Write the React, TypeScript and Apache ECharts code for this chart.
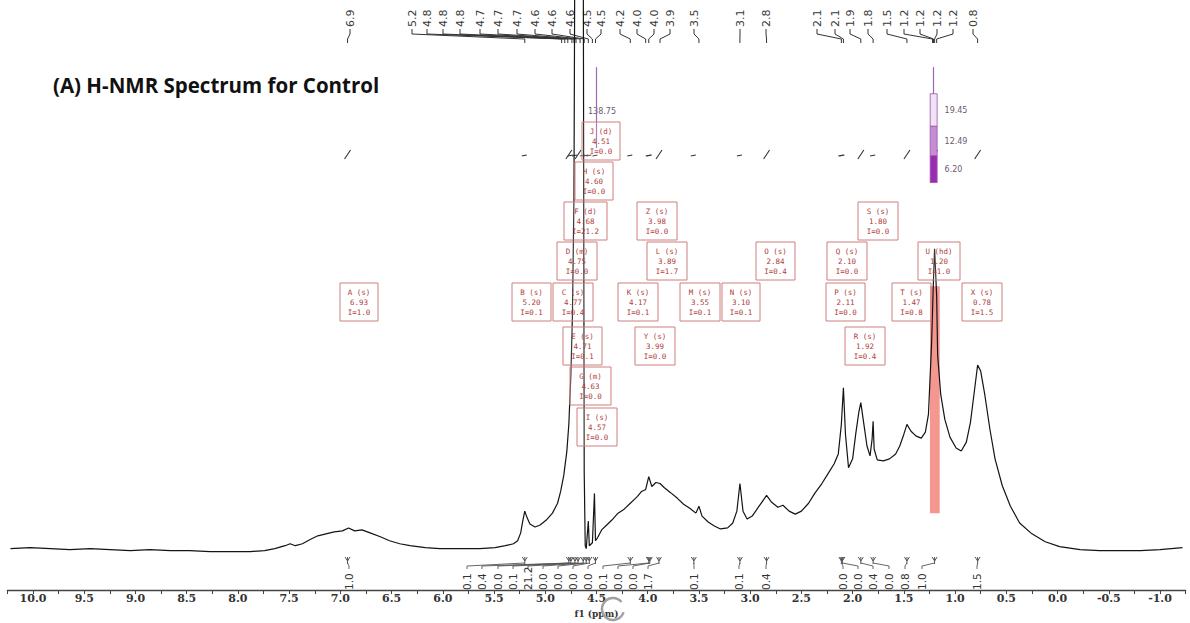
import { useEffect, useRef } from "react";
import * as echarts from "echarts";

// ---- spectrum trace (chemical shift in ppm, intensity in arbitrary units) ----
const spectrumPpm = [
  10.22, 10.03, 9.83, 9.64, 9.44, 9.25, 9.05, 8.86, 8.66, 8.47,
  8.27, 8.08, 7.88, 7.74, 7.64, 7.54, 7.49, 7.44, 7.37, 7.30,
  7.22, 7.14, 7.06, 6.98, 6.92, 6.86, 6.79, 6.71, 6.61, 6.52,
  6.42, 6.32, 6.17, 6.03, 5.83, 5.64, 5.49, 5.39, 5.31, 5.27,
  5.24, 5.22, 5.20, 5.18, 5.15, 5.10, 5.05, 4.99, 4.93, 4.88,
  4.85, 4.82, 4.79, 4.77, 4.75, 4.735, 4.72, 4.71, 4.675, 4.64,
  4.63, 4.62, 4.61, 4.60, 4.58, 4.57, 4.54, 4.52, 4.51, 4.49,
  4.45, 4.40, 4.35, 4.29, 4.23, 4.17, 4.13, 4.10, 4.06, 4.02,
  3.99, 3.96, 3.92, 3.88, 3.84, 3.78, 3.71, 3.65, 3.59, 3.53,
  3.50, 3.47, 3.41, 3.35, 3.29, 3.22, 3.17, 3.13, 3.10, 3.07,
  3.03, 2.98, 2.92, 2.88, 2.84, 2.79, 2.73, 2.68, 2.62, 2.56,
  2.50, 2.43, 2.37, 2.30, 2.24, 2.18, 2.14, 2.11, 2.09, 2.07,
  2.04, 2.00, 1.97, 1.94, 1.92, 1.89, 1.86, 1.83, 1.81, 1.80,
  1.79, 1.76, 1.70, 1.64, 1.58, 1.54, 1.50, 1.47, 1.43, 1.38,
  1.33, 1.29, 1.26, 1.23, 1.21, 1.20, 1.18, 1.17, 1.14, 1.10,
  1.05, 0.99, 0.94, 0.89, 0.85, 0.81, 0.78, 0.75, 0.71, 0.66,
  0.61, 0.54, 0.46, 0.37, 0.25, 0.12, -0.02, -0.22, -0.41, -0.61,
  -0.81, -1.0, -1.22,
];
const spectrumIntensity = [
  42, 43, 42, 41, 42, 41, 40, 41, 40, 40,
  39, 39, 39, 40, 42, 45, 47, 45, 47, 51,
  55, 57, 59, 60, 63, 60, 61, 58, 54, 50,
  47, 45, 43, 42, 42, 42, 43, 45, 47, 50,
  58, 70, 80, 74, 67, 64, 66, 71, 78, 88,
  100, 116, 140, 168, 218, 278, 398, 700, 650, 700,
  700, 120, 45, 42, 70, 45, 48, 98, 50, 53,
  61, 66, 71, 78, 82, 88, 92, 95, 100, 102,
  115, 105, 109, 108, 104, 99, 93, 87, 83, 78,
  85, 75, 69, 65, 62, 63, 68, 80, 108, 80,
  72, 75, 84, 90, 96, 89, 84, 86, 80, 77,
  80, 88, 98, 108, 118, 128, 138, 168, 205, 158,
  124, 133, 158, 180, 190, 168, 146, 136, 153, 171,
  143, 132, 131, 133, 138, 146, 158, 168, 161, 156,
  154, 160, 178, 248, 318, 346, 298, 238, 198, 173,
  155, 144, 141, 150, 170, 203, 228, 222, 198, 163,
  133, 106, 85, 68, 57, 49, 44, 41, 40, 40,
  40, 41, 43,
];

// ---- peak picking labels (top) ----
const peakLabels = [
  "6.9", "5.2", "4.8", "4.8", "4.8", "4.7", "4.7", "4.7", "4.6", "4.6",
  "4.6", "4.5", "4.5", "4.2", "4.0", "4.0", "3.9", "3.5", "3.1", "2.8",
  "2.1", "2.1", "1.9", "1.8", "1.5", "1.2", "1.2", "1.2", "1.2", "0.8",
];
const peakShifts = [
  6.93, 5.20, 4.84, 4.81, 4.78, 4.74, 4.72, 4.70, 4.66, 4.62,
  4.58, 4.54, 4.51, 4.17, 4.02, 3.99, 3.88, 3.50, 3.10, 2.84,
  2.11, 2.09, 1.92, 1.80, 1.47, 1.22, 1.21, 1.20, 1.18, 0.78,
];
// layout: pixel x of each rotated label
const peakLabelX = [
  350, 412, 427, 443, 460, 480, 498, 517, 535, 552,
  570, 587, 601, 620, 637, 654, 670, 694, 740, 766,
  817, 835, 850, 868, 887, 904, 920, 937, 953, 973,
];

// ---- multiplet analysis ----
const multipletNames = ["A", "B", "C", "D", "E", "F", "G", "H", "I", "J", "K", "L", "M", "N", "O", "P", "Q", "R", "S", "T", "U", "X", "Y", "Z"];
const multipletTypes = ["s", "s", "s", "m", "s", "d", "m", "s", "s", "d", "s", "s", "s", "s", "s", "s", "s", "s", "s", "s", "hd", "s", "s", "s"];
const multipletShifts = [6.93, 5.20, 4.77, 4.75, 4.71, 4.68, 4.63, 4.60, 4.57, 4.51, 4.17, 3.89, 3.55, 3.10, 2.84, 2.11, 2.10, 1.92, 1.80, 1.47, 1.20, 0.78, 3.99, 3.98];
const multipletIntegrals = [1.0, 0.1, 0.4, 0.0, 0.1, 21.2, 0.0, 0.0, 0.0, 0.0, 0.1, 1.7, 0.1, 0.1, 0.4, 0.0, 0.0, 0.4, 0.0, 0.8, 1.0, 1.5, 0.0, 0.0];
// layout: [left, top, width] of each annotation box (pixels)
const boxLayout: [number, number, number][] = [
  [340, 283, 38], [512, 283, 39], [553, 283, 40], [557, 242, 40], [563, 327, 39], [564, 202, 43],
  [570, 367, 41], [575, 162, 38], [577, 408, 40], [582, 122, 38], [618, 283, 40], [647, 242, 40],
  [680, 283, 40], [722, 283, 38], [756, 242, 39], [826, 283, 39], [827, 242, 40], [845, 327, 40],
  [858, 202, 40], [892, 283, 39], [918, 242, 42], [962, 283, 40], [635, 327, 40], [637, 202, 40],
];
// layout: pixel x of the integral value labels (ordered by decreasing shift)
const integralLabelX = [349, 467, 482, 498, 513, 528, 543, 558, 573, 588, 603, 618, 633, 648, 694, 739, 766, 843, 858, 873, 889, 905, 922, 977];

// ---- multiplet integral stack at 1.20 ppm and 4.51 ppm ----
const stackValues = ["19.45", "12.49", "6.20"];
const stackLevels = [530, 503, 470, 440, 413];
const bigIntegralValue = "138.75";

const W = 1190;
const H = 623;

export default function App() {
  const ref = useRef<HTMLDivElement>(null);

  useEffect(() => {
    const el = ref.current;
    if (!el) return;
    const chart = echarts.init(el, null, { renderer: "svg" });
    const spectrum = spectrumPpm.map((p, i) => [p, spectrumIntensity[i]]);

    const stackColors = ["#f1e3f3", "#c48ed0", "#9a2cb0"];
    const stackAreas = stackValues.map((v, i) => [
      {
        xAxis: 1.243,
        yAxis: stackLevels[i + 1],
        itemStyle: { color: stackColors[i], borderColor: "#9a50ac", borderWidth: 0.8 },
        label: {
          show: true,
          position: "right",
          distance: 7,
          formatter: v,
          fontSize: 8,
          color: "#6c5a72",
          fontFamily: "DejaVu Sans",
        },
      },
      { xAxis: 1.175, yAxis: stackLevels[i + 2] },
    ]);

    chart.setOption({
      animation: false,
      backgroundColor: "#ffffff",
      grid: { left: 7.4, right: 4.4, top: 0, bottom: 25, containLabel: false },
      xAxis: {
        type: "value",
        inverse: true,
        min: -1.25,
        max: 10.25,
        interval: 0.25,
        axisLine: { lineStyle: { color: "#444", width: 1.4 } },
        axisTick: { show: true, length: 4, lineStyle: { color: "#444" } },
        splitLine: { show: false },
        axisLabel: {
          formatter: (v: number) => {
            const d = v * 2;
            if (Math.abs(d - Math.round(d)) > 1e-6) return "";
            const vv = Math.abs(v) < 1e-9 ? 0 : v;
            return vv.toFixed(1);
          },
          fontFamily: "DejaVu Serif",
          fontWeight: "bold",
          fontSize: 11,
          color: "#333",
          margin: 3,
          showMinLabel: true,
          showMaxLabel: true,
        },
        name: "f1 (ppm)",
        nameLocation: "middle",
        nameGap: 14,
        nameTextStyle: { fontFamily: "DejaVu Serif", fontWeight: "bold", fontSize: 9, color: "#333" },
      },
      yAxis: { type: "value", min: 0, max: 598, show: false },
      series: [
        {
          type: "line",
          data: spectrum,
          showSymbol: false,
          symbol: "none",
          clip: true,
          z: 3,
          lineStyle: { color: "#141414", width: 1.2 },
        },
        {
          type: "line",
          data: [],
          z: 4,
          markArea: {
            silent: true,
            data: [
              [
                { xAxis: 1.245, yAxis: 78, itemStyle: { color: "rgba(240,128,120,0.82)" } },
                { xAxis: 1.15, yAxis: 308 },
              ],
              ...stackAreas,
            ],
          },
          markLine: {
            silent: true,
            symbol: "none",
            label: { show: false },
            lineStyle: { color: "#9a6ab0", width: 1.2, type: "solid" },
            data: [
              [{ coord: [1.209, stackLevels[0]] }, { coord: [1.209, stackLevels[1]] }],
              [{ coord: [4.505, 530] }, { coord: [4.505, 448] }],
            ],
          },
        },
      ],
    });

    const px = (ppm: number) => chart.convertToPixel({ xAxisIndex: 0 }, ppm) as number;
    const g: any[] = [];

    // title
    g.push({
      type: "text",
      silent: true,
      x: 53,
      y: 85,
      style: {
        text: "(A) H-NMR Spectrum for Control",
        fontFamily: "Open Sans",
        fontWeight: "bold",
        fontSize: 20.5,
        fill: "#111",
        align: "left",
        verticalAlign: "middle",
      },
    });

    // top peak labels with leaders
    peakLabels.forEach((t, i) => {
      const lx = peakLabelX[i];
      const p = px(peakShifts[i]);
      g.push({
        type: "text",
        silent: true,
        x: lx,
        y: 27,
        rotation: Math.PI / 2,
        style: {
          text: t,
          fontFamily: "DejaVu Sans",
          fontSize: 11,
          fill: "#3a3a3a",
          align: "left",
          verticalAlign: "middle",
        },
      });
      g.push({
        type: "polyline",
        silent: true,
        shape: { points: [[lx, 29], [lx, 34], [p, 39], [p, 43]] },
        style: { stroke: "#333", lineWidth: 1, fill: "none" },
      });
    });

    // integral strokes
    multipletShifts.forEach((s, i) => {
      const p = px(s);
      const big = multipletIntegrals[i] >= 0.4;
      g.push({
        type: "line",
        silent: true,
        shape: big ? { x1: p - 3, y1: 159, x2: p + 3, y2: 150 } : { x1: p - 3, y1: 156, x2: p + 2, y2: 155 },
        style: { stroke: "#333", lineWidth: 1.1 },
      });
    });

    // 138.75 label
    g.push({
      type: "text",
      silent: true,
      x: px(4.505) - 8,
      y: 111,
      style: { text: bigIntegralValue, fontFamily: "DejaVu Sans", fontSize: 8, fill: "#6c5a72", align: "left", verticalAlign: "middle" },
    });

    // annotation boxes
    multipletNames.forEach((n, i) => {
      const [l, t, w] = boxLayout[i];
      const h = 38;
      g.push({
        type: "rect",
        silent: true,
        z: 10,
        shape: { x: l, y: t, width: w, height: h },
        style: { fill: "rgba(255,255,255,0.15)", stroke: "#d07e7e", lineWidth: 1 },
      });
      g.push({
        type: "text",
        silent: true,
        z: 11,
        x: l + w / 2,
        y: t + h / 2 + 0.5,
        style: {
          text: `${n} (${multipletTypes[i]})\n${multipletShifts[i].toFixed(2)}\nI=${multipletIntegrals[i].toFixed(1)}`,
          fontFamily: "DejaVu Sans Mono",
          fontSize: 7.5,
          lineHeight: 10,
          fill: "#b0403c",
          align: "center",
          verticalAlign: "middle",
        },
      });
    });

    // integral marks and labels (ordered by decreasing shift)
    const order = multipletShifts.map((s, i) => i).sort((a, b) => multipletShifts[b] - multipletShifts[a]);
    order.forEach((idx, k) => {
      const lx = integralLabelX[k];
      const p = px(multipletShifts[idx]);
      g.push({
        type: "polyline",
        silent: true,
        shape: { points: [[lx, 569], [lx, 566], [p, 563]] },
        style: { stroke: "#555", lineWidth: 0.9, fill: "none" },
      });
      g.push({
        type: "polyline",
        silent: true,
        shape: { points: [[p - 2.5, 557], [p, 561], [p + 2.5, 557]] },
        style: { stroke: "#555", lineWidth: 1, fill: "none" },
      });
      g.push({
        type: "line",
        silent: true,
        shape: { x1: p, y1: 557, x2: p, y2: 564 },
        style: { stroke: "#555", lineWidth: 1 },
      });
      g.push({
        type: "text",
        silent: true,
        x: lx,
        y: 590,
        rotation: Math.PI / 2,
        style: {
          text: multipletIntegrals[idx].toFixed(1),
          fontFamily: "DejaVu Sans",
          fontSize: 10.5,
          fill: "#333",
          align: "left",
          verticalAlign: "middle",
        },
      });
    });

    // screenshot watermark icon near axis name
    g.push({
      type: "arc",
      silent: true,
      z: 20,
      shape: { cx: 613, cy: 609, r: 11, startAngle: 0.3, endAngle: 5.6 },
      style: { stroke: "#a0a0a0", lineWidth: 2.5, fill: "none" },
    });

    chart.setOption({ graphic: g });

    return () => chart.dispose();
  }, []);

  return (
    <div
      ref={ref}
      style={{ position: "fixed", left: 0, top: 0, width: W, height: H, background: "#fff" }}
    />
  );
}
